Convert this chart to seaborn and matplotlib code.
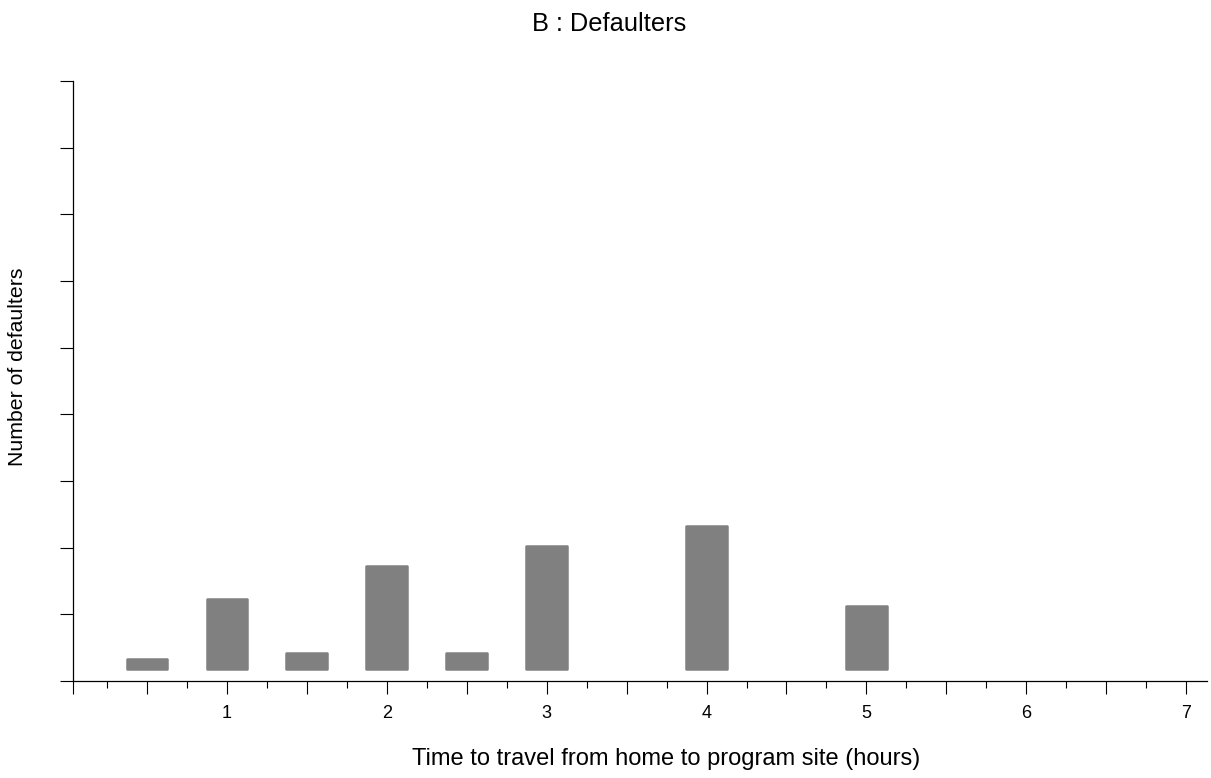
import numpy as np
import pandas as pd
import matplotlib
matplotlib.use("Agg")
import matplotlib.pyplot as plt
import seaborn as sns

# Travel time (hours) and number of defaulters in each group
hours = [0.5, 1.0, 1.5, 2.0, 2.5, 3.0, 4.0, 5.0]
defaulters = [3, 21, 5, 31, 5, 37, 43, 19]
x_tick_labels = ["1", "2", "3", "4", "5", "6", "7"]

df = pd.DataFrame({"hours": hours, "defaulters": defaulters})

sns.set_style("white")
plt.rcParams["font.family"] = ["Liberation Sans", "DejaVu Sans"]
plt.rcParams["text.color"] = "black"
plt.rcParams["axes.labelcolor"] = "black"
plt.rcParams["xtick.color"] = "black"
plt.rcParams["ytick.color"] = "black"

fig = plt.figure(figsize=(12.11, 7.78), dpi=100)
ax = fig.add_axes([73 / 1211, 97 / 778, 1134 / 1211, 600 / 778])

bar_grey = "#808080"
sns.barplot(data=df, x="hours", y="defaulters", native_scale=True,
            width=0.51, color=bar_grey, saturation=1, ax=ax,
            edgecolor=bar_grey, linewidth=1.8)
for p in ax.patches:
    p.set_joinstyle("round")

# Axis ranges: the bars sit slightly above the horizontal axis
xmin, xmax = 0.0375, 7.13
ymin, ymax = -3.5, 176.5
ax.set_xlim(xmin, xmax)
ax.set_ylim(ymin, ymax)

major = [xmin] + list(np.arange(0.5, 7.01, 0.5))
labels = [""] + [x_tick_labels[int(v) - 1] if float(v).is_integer() else "" for v in major[1:]]
ax.set_xticks(major)
ax.set_xticklabels(labels)
ax.set_xticks(np.arange(0.25, 7.0, 0.5), minor=True)
ax.set_yticks(np.arange(ymin, ymax + 0.1, 20))
ax.set_yticklabels([])

for side in ["top", "right"]:
    ax.spines[side].set_visible(False)
for side in ["left", "bottom"]:
    ax.spines[side].set_color("black")
    ax.spines[side].set_linewidth(0.9)

ax.tick_params(axis="x", which="major", direction="out", length=9.5, width=0.8,
               color="black", labelcolor="black", labelsize=13, pad=8, bottom=True)
ax.tick_params(axis="x", which="minor", direction="out", length=5, width=0.8,
               color="black", bottom=True)
ax.tick_params(axis="y", which="major", direction="out", length=9.5, width=0.8,
               color="black", left=True)

ax.set_xlabel("Time to travel from home to program site (hours)", fontsize=17,
              color="black")
ax.xaxis.set_label_coords((666.5 - 73) / 1134, -(748 - 681) / 600)
ax.set_ylabel("Number of defaulters", fontsize=15.3, color="black")
ax.yaxis.set_label_coords((27 - 73) / 1134, (681 - 367) / 600)
ax.set_title("B : Defaulters", fontsize=18.3, color="black",
             x=(609.5 - 73) / 1134, y=(681 - 31) / 600, pad=0)

fig.savefig("out.png", dpi=100, facecolor="white")
